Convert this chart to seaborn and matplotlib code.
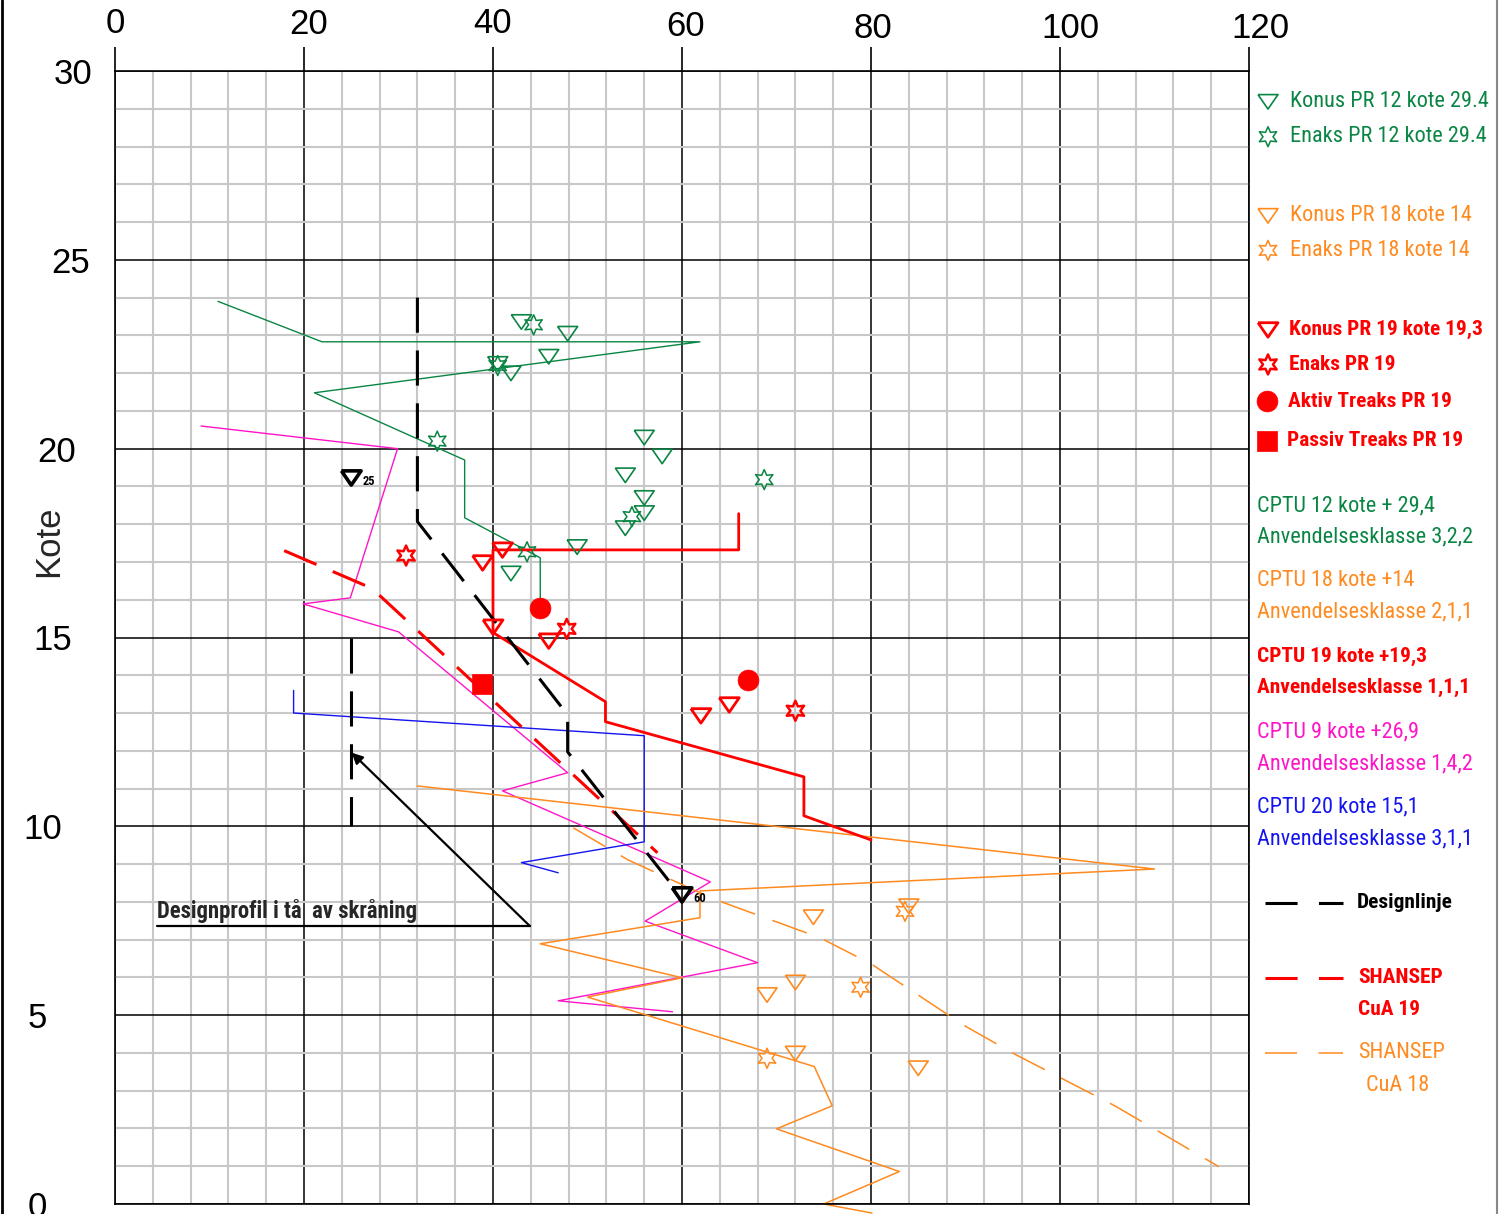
import numpy as np
import matplotlib
matplotlib.use("Agg")
import matplotlib.pyplot as plt
from matplotlib.lines import Line2D
from matplotlib.transforms import ScaledTranslation
import seaborn as sns

# farger
GRONN = "#0a8544"
ORANSJE = "#ff8a1f"
ROD = "#ff0000"
MAGENTA = "#ff14c8"
BLA = "#1414f0"

# CPTU-profiler, cu (kPa) mot kote
cptu12_cu = [10.9, 21.9, 61.9, 21.1, 37.0, 37.0, 45.0, 45.0]
cptu12_kote = [23.9, 22.83, 22.83, 21.48, 19.7, 18.17, 17.11, 16.05]

cptu19_cu = [66.0, 66.0, 40.0, 40.0, 51.9, 51.9, 72.9, 72.9, 80.0]
cptu19_kote = [18.28, 17.32, 17.32, 15.13, 13.3, 12.77, 11.31, 10.28, 9.64]

cptu9_cu = [9.1, 29.9, 24.9, 19.9, 30.0, 47.9, 41.0, 63.0, 56.1, 68.0, 46.9, 59.0]
cptu9_kote = [20.6, 20.0, 16.05, 15.89, 15.15, 11.42, 10.94, 8.53, 7.49, 6.39, 5.38, 5.09]

cptu20_cu = [18.9, 18.9, 56.0, 56.0, 43.0, 46.9]
cptu20_kote = [13.6, 13.0, 12.4, 9.59, 9.04, 8.77]

cptu18_cu = [32.0, 110.0, 61.9, 61.9, 45.0, 60.0, 50.0, 74.0, 75.9, 70.0, 83.0, 75.0, 80.1]
cptu18_kote = [11.07, 8.87, 8.29, 7.58, 6.89, 5.99, 5.48, 3.64, 2.6, 1.99, 0.86, 0.0, -0.24]

# designlinje og SHANSEP
design_cu = [32.0, 32.0, 47.9, 47.9, 59.6]
design_kote = [24.0, 18.07, 12.95, 11.97, 8.24]
design2_cu = [25.0, 25.0]
design2_kote = [15.0, 10.0]

shansep19_cu = [17.9, 27.2, 57.4]
shansep19_kote = [17.3, 16.3, 9.3]

shansep18_cu = [48.5, 54.3, 63.3, 74.6, 80.0, 89.9, 95.2, 105.8, 116.8]
shansep18_kote = [9.96, 9.11, 8.08, 7.05, 6.36, 4.72, 3.97, 2.6, 0.99]

# labforsøk
konus12_cu = [43.0, 47.9, 40.5, 45.9, 41.9, 56.0, 57.9, 54.0, 56.0, 56.0, 54.0, 48.9, 41.9]
konus12_kote = [23.36, 23.05, 22.25, 22.44, 22.0, 20.3, 19.8, 19.3, 18.7, 18.3, 17.9, 17.4, 16.7]
enaks12_cu = [44.3, 40.5, 34.1, 54.7, 68.7, 43.6]
enaks12_kote = [23.28, 22.2, 20.2, 18.2, 19.18, 17.27]

konus18_cu = [73.9, 84.0, 72.0, 69.0, 72.0, 85.0]
konus18_kote = [7.6, 7.89, 5.87, 5.54, 3.99, 3.6]
enaks18_cu = [83.6, 78.9, 69.0]
enaks18_kote = [7.75, 5.74, 3.86]

konus19_cu = [41.0, 38.9, 40.0, 45.9, 62.0, 65.0]
konus19_kote = [17.32, 16.98, 15.28, 14.91, 12.93, 13.22]
enaks19_cu = [30.8, 47.8, 72.0]
enaks19_kote = [17.17, 15.23, 13.06]
aktiv19_cu = [45.0, 67.0]
aktiv19_kote = [15.79, 13.88]
passiv19_cu = [38.8]
passiv19_kote = [13.77]

# designnivå-merker
merke_cu = [25.0, 60.0]
merke_kote = [19.23, 8.19]
merke_tekst = ["25", "60"]

# designprofil i tå
profil_cu = [4.4, 43.9]
profil_kote = [7.36, 7.36]
pil_cu = 25.05
pil_kote = 11.95

sns.set_style("white")
plt.rcParams["font.family"] = ["Liberation Sans", "DejaVu Sans"]
SMAL = ["Roboto Condensed", "Liberation Sans Narrow", "DejaVu Sans"]

TREKANT = [(-1, 0.7), (1, 0.7), (0, -0.75), (-1, 0.7)]
STJERNE = (6, 1, 0)

fig = plt.figure(figsize=(15, 12.14), dpi=100)
ax = fig.add_axes([115 / 1500, 10 / 1214, 1134 / 1500, 1133 / 1214])


def linje(x, y, farge, lw, ls="-", **kw):
    sns.lineplot(x=x, y=y, sort=False, estimator=None, color=farge, lw=lw,
                 ls=ls, ax=ax, **kw)


def punkter(a, x, y, marker, farge, s, lw, fylt=False):
    sns.scatterplot(x=x, y=y, ax=a, marker=marker, s=s, color=farge,
                    facecolor=farge if fylt else "none", edgecolor=farge,
                    linewidth=lw, zorder=6, clip_on=False)


linje(cptu12_cu, cptu12_kote, GRONN, 1.0)
linje(cptu9_cu, cptu9_kote, MAGENTA, 1.0)
linje(cptu20_cu, cptu20_kote, BLA, 1.0)
linje(cptu18_cu, cptu18_kote, ORANSJE, 1.1, clip_on=False)
linje(shansep18_cu, shansep18_kote, ORANSJE, 1.1, ls=(0, (24, 12)))
linje(cptu19_cu, cptu19_kote, ROD, 2.0)
linje(shansep19_cu, shansep19_kote, ROD, 2.2, ls=(0, (11.5, 5.8)))
linje(design_cu, design_kote, "black", 2.2, ls=(0, (11.5, 5.8)))
linje(design2_cu, design2_kote, "black", 2.2, ls=(0, (11.5, 5.8)))

punkter(ax, konus12_cu, konus12_kote, TREKANT, GRONN, 207, 1.2)
punkter(ax, enaks12_cu, enaks12_kote, STJERNE, GRONN, 207, 1.1)
punkter(ax, konus18_cu, konus18_kote, TREKANT, ORANSJE, 207, 1.2)
punkter(ax, enaks18_cu, enaks18_kote, STJERNE, ORANSJE, 207, 1.1)
punkter(ax, konus19_cu, konus19_kote, TREKANT, ROD, 207, 2.0)
punkter(ax, enaks19_cu, enaks19_kote, STJERNE, ROD, 207, 1.8)
punkter(ax, aktiv19_cu, aktiv19_kote, "o", ROD, 225, 0.5, fylt=True)
punkter(ax, passiv19_cu, passiv19_kote, "s", ROD, 225, 0.5, fylt=True)
punkter(ax, merke_cu, merke_kote, TREKANT, "black", 200, 2.6)
for x, y, t in zip(merke_cu, merke_kote, merke_tekst):
    ax.annotate(t, (x, y), xytext=(8, -5), textcoords="offset points",
                fontsize=9, fontweight="bold", color="black", zorder=7,
                family=SMAL)

# designprofil med pil
ax.plot(profil_cu, profil_kote, color="black", lw=1.6, zorder=4)
ax.annotate("", xy=(pil_cu, pil_kote), xytext=(profil_cu[1], profil_kote[1]),
            arrowprops=dict(arrowstyle="-|>", color="black", lw=1.6,
                            mutation_scale=16, shrinkA=0, shrinkB=0), zorder=4)
ax.text(profil_cu[0], profil_kote[0] + 0.2, "Designprofil i tå  av skråning",
        family=SMAL, fontsize=16.4, fontweight="bold", va="baseline", ha="left")

# akser og rutenett
ax.set_xlim(0, 120)
ax.set_ylim(0, 30)
ax.set_xticks(np.arange(0, 121, 20))
ax.set_xticks(np.arange(0, 121, 4), minor=True)
ax.set_yticks(np.arange(0, 31, 5))
ax.set_yticks(np.arange(0, 31, 1), minor=True)
ax.xaxis.tick_top()
ax.tick_params(axis="both", which="major", labelsize=25, length=17, width=1.2,
               color="black", labelcolor="black")
ax.tick_params(axis="x", which="major", pad=5)
ax.tick_params(axis="y", which="major", pad=1)
ax.tick_params(which="minor", length=0)
ax.grid(which="minor", color="#c8c8c8", lw=1.5)
ax.grid(which="major", color="black", lw=1.1)
ax.set_axisbelow(True)
for sp in ax.spines.values():
    sp.set_color("black")
    sp.set_linewidth(1.2)
ax.set_xlabel("")
ax.set_ylabel("Kote", fontsize=25)
ax.yaxis.set_label_coords(-0.044, 0.585)

# tallene i referansen står litt skjevt (0, 5, ..., 30)
y_forskyv = [-43, -43, -28, -18, -14, 0, 2]
for lab, dx in zip(ax.get_yticklabels(), y_forskyv):
    lab.set_transform(lab.get_transform() + ScaledTranslation(dx / 100, 0, fig.dpi_scale_trans))
x_forskyv = [(0, 0), (5, -1), (0, 0), (4, -3), (2, -5), (10, -5), (11, -5)]
for lab, (dx, dy) in zip(ax.get_xticklabels(), x_forskyv):
    lab.set_transform(lab.get_transform() + ScaledTranslation(dx / 100, dy / 100, fig.dpi_scale_trans))

# tegnforklaring til høyre
lax = fig.add_axes([1250 / 1500, 10 / 1214, 247 / 1500, 1133 / 1214])
lax.set_xlim(0, 247)
lax.set_ylim(0, 30)
lax.axis("off")

punkter(lax, [18], [29.19], TREKANT, GRONN, 207, 1.2)
punkter(lax, [18], [28.26], STJERNE, GRONN, 207, 1.1)
punkter(lax, [18], [26.17], TREKANT, ORANSJE, 207, 1.2)
punkter(lax, [18], [25.25], STJERNE, ORANSJE, 207, 1.1)
punkter(lax, [18], [23.15], TREKANT, ROD, 207, 2.0)
punkter(lax, [18], [22.23], STJERNE, ROD, 207, 1.8)
punkter(lax, [17], [21.25], "o", ROD, 225, 0.5, fylt=True)
punkter(lax, [17], [20.21], "s", ROD, 225, 0.5, fylt=True)

tekster = [
    (40, 29.19, "Konus PR 12 kote 29.4", GRONN, "normal"),
    (40, 28.26, "Enaks PR 12 kote 29.4", GRONN, "normal"),
    (40, 26.17, "Konus PR 18 kote 14", ORANSJE, "normal"),
    (40, 25.25, "Enaks PR 18 kote 14", ORANSJE, "normal"),
    (39, 23.15, "Konus PR 19 kote 19,3", ROD, "bold"),
    (39, 22.23, "Enaks PR 19", ROD, "bold"),
    (38, 21.25, "Aktiv Treaks PR 19", ROD, "bold"),
    (37, 20.21, "Passiv Treaks PR 19", ROD, "bold"),
    (7, 18.49, "CPTU 12 kote + 29,4", GRONN, "normal"),
    (7, 17.67, "Anvendelsesklasse 3,2,2", GRONN, "normal"),
    (7, 16.50, "CPTU 18 kote +14", ORANSJE, "normal"),
    (7, 15.68, "Anvendelsesklasse 2,1,1", ORANSJE, "normal"),
    (7, 14.49, "CPTU 19 kote +19,3", ROD, "bold"),
    (7, 13.67, "Anvendelsesklasse 1,1,1", ROD, "bold"),
    (7, 12.50, "CPTU 9 kote +26,9", MAGENTA, "normal"),
    (7, 11.66, "Anvendelsesklasse 1,4,2", MAGENTA, "normal"),
    (7, 10.52, "CPTU 20 kote 15,1", BLA, "normal"),
    (7, 9.67, "Anvendelsesklasse 3,1,1", BLA, "normal"),
    (107, 7.97, "Designlinje", "black", "bold"),
    (108, 5.99, "SHANSEP", ROD, "bold"),
    (108, 5.14, "CuA 19", ROD, "bold"),
    (108, 4.00, "SHANSEP", ORANSJE, "normal"),
    (116, 3.15, "CuA 18", ORANSJE, "normal"),
]
for x, y, t, c, w in tekster:
    lax.text(x, y, t, color=c, fontweight=w, family=SMAL,
             fontsize=15.4 if w == "bold" else 16.0, va="center", ha="left")

lax.plot([15, 93], [7.97, 7.97], color="black", lw=2.2, ls=(0, (10.5, 7)))
lax.plot([15, 93], [5.99, 5.99], color=ROD, lw=2.2, ls=(0, (10.5, 7)))
lax.plot([15, 93], [4.00, 4.00], color=ORANSJE, lw=1.1, ls=(0, (21, 14)))

# ramme
fig.add_artist(Line2D([0.001, 0.001], [0, 1], color="black", lw=2,
                      transform=fig.transFigure))
fig.add_artist(Line2D([1497 / 1500, 1497 / 1500], [0, 1], color="#888888",
                      lw=1.5, transform=fig.transFigure))

fig.savefig("out.png", dpi=100)
